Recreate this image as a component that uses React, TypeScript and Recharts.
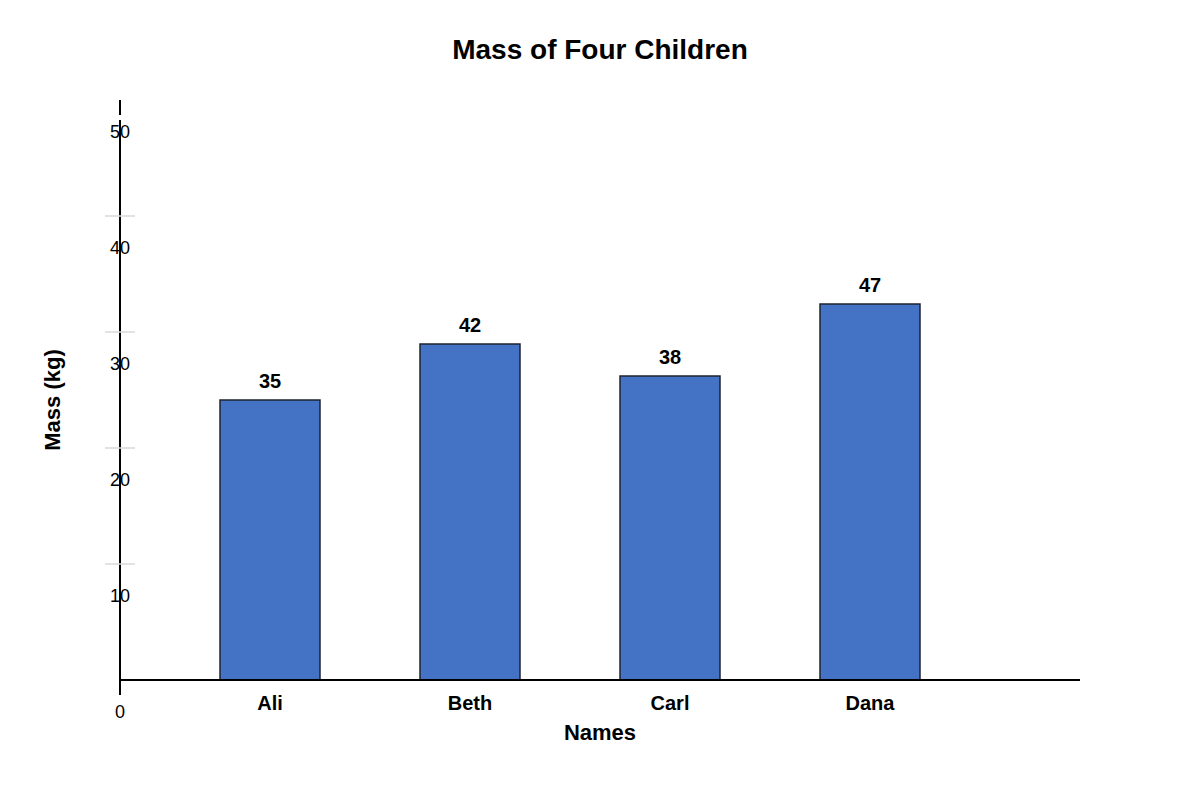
import React from 'react'
import { BarChart, Bar, XAxis, YAxis, LabelList, Label } from 'recharts'

// ── Data ─────────────────────────────────────────────────
const NAMES = ['Ali', 'Beth', 'Carl', 'Dana']
const MASSES = [35, 42, 38, 47]
const Y_TICKS = [0, 10, 20, 30, 40, 50]
// the bars sit on a longer scale than the printed tick labels, as in the original picture
const BAR_DOMAIN_MAX = 72.5
const LABEL_MAX = 50

const data = NAMES.map((name, i) => ({ name, mass: MASSES[i] }))
const tickPositions = Y_TICKS.map(v => (v * BAR_DOMAIN_MAX) / LABEL_MAX)

const FONT = '"Liberation Sans", Arial, sans-serif'
const BLUE = '#4472c4'
const AXIS_X = 120

function YTick(props: any) {
  const { y, payload } = props
  const x = AXIS_X
  const label = Math.round((payload.value * LABEL_MAX) / BAR_DOMAIN_MAX)
  return (
    <g>
      {label !== 0 && label !== 50 && (
        <line x1={x - 15} x2={x + 15} y1={y} y2={y} stroke="#d9d9d9" strokeWidth={1.5} />
      )}
      {label === 0 && <line x1={x} x2={x} y1={y} y2={y + 15} stroke="#000" strokeWidth={2} />}
      {label === 50 && <rect x={x - 2} y={y + 15} width={4} height={5} fill="#fff" />}
      <text x={x} y={y + 32} textAnchor="middle" dominantBaseline="central"
        fontFamily={FONT} fontSize={18} fill="#000">
        {label}
      </text>
    </g>
  )
}

function XTick(props: any) {
  const { x, payload } = props
  return (
    <text x={x} y={703} textAnchor="middle" dominantBaseline="central"
      fontFamily={FONT} fontSize={20} fontWeight="bold" fill="#000">
      {payload.value}
    </text>
  )
}

export default function App() {
  return (
    <div style={{ position: 'absolute', left: 0, top: 0, width: 1200, height: 800, background: '#fff' }}>
      <div style={{
        position: 'absolute', left: 0, top: 32, width: 1200, textAlign: 'center',
        fontFamily: FONT, fontSize: 28, fontWeight: 'bold', color: '#000', lineHeight: '36px',
      }}>
        Mass of Four Children
      </div>
      <BarChart width={1200} height={800} data={data}
        margin={{ top: 100, right: 120, bottom: 90, left: 90 }}>
        <XAxis dataKey="name" height={30} padding={{ left: 50, right: 110 }}
          axisLine={{ stroke: '#000', strokeWidth: 2 }} tickLine={false} tick={<XTick />}>
          <Label content={({ viewBox }: any) => (
            <text x={viewBox.x + viewBox.width / 2} y={732} textAnchor="middle" dominantBaseline="central"
              fontFamily={FONT} fontSize={22} fontWeight="bold" fill="#000">Names</text>
          )} />
        </XAxis>
        <YAxis width={30} domain={[0, BAR_DOMAIN_MAX]} ticks={tickPositions} interval={0}
          tickSize={0} tickMargin={0}
          axisLine={{ stroke: '#000', strokeWidth: 2 }} tickLine={false} tick={<YTick />}>
          <Label content={() => (
            <text x={52} y={400} textAnchor="middle" dominantBaseline="central" transform="rotate(-90 52 400)"
              fontFamily={FONT} fontSize={22} fontWeight="bold" fill="#000">Mass (kg)</text>
          )} />
        </YAxis>
        <Bar dataKey="mass" barSize={100} fill={BLUE} stroke="#1c2330" strokeWidth={1.5}
          isAnimationActive={false}>
          <LabelList dataKey="mass" position="top" offset={12}
            style={{ fontFamily: FONT, fontSize: 20, fontWeight: 'bold', fill: '#000' }} />
        </Bar>
      </BarChart>
    </div>
  )
}
